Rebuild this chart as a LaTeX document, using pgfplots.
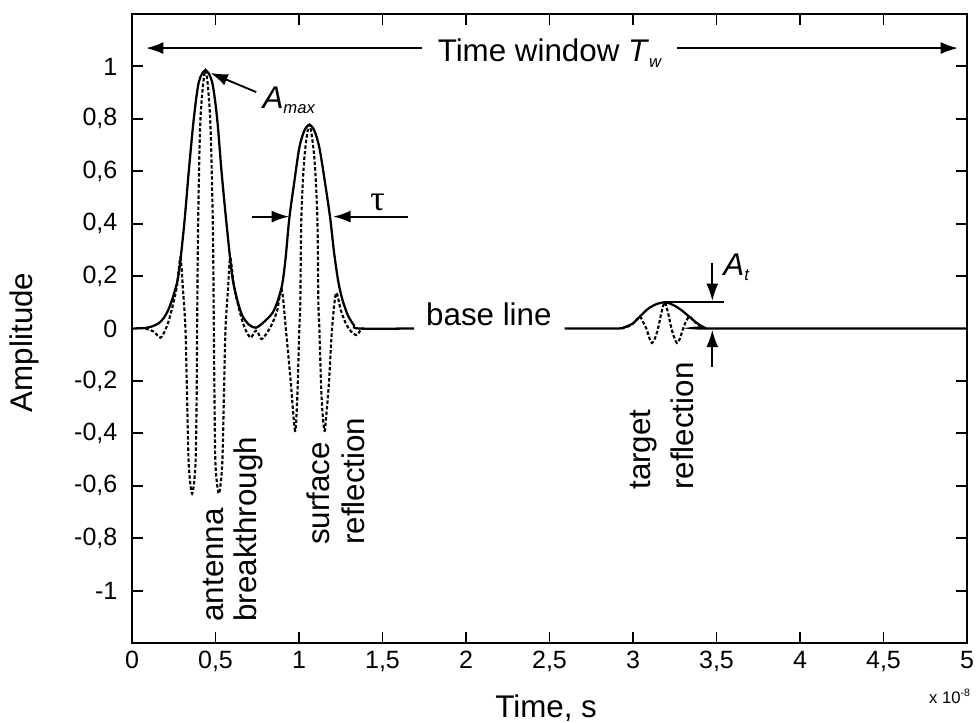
\documentclass[border=0pt]{standalone}
\usepackage{pgfplots}
\pgfplotsset{compat=1.18}
\usepackage{fontspec}
\setmainfont{Liberation Sans}
\newfontfamily\greekserif{Liberation Serif}
\usetikzlibrary{arrows.meta}
\newcommand\af{\fontsize{23.5}{26}\selectfont}
\newcommand\subt[1]{\raisebox{-4pt}{\fontsize{12.5}{13}\selectfont\itshape #1}}
\tikzset{annarrow/.style={-{Latex[length=13pt,width=9pt]}, line width=1.4pt, black}}
\begin{document}
\begin{tikzpicture}
\begin{axis}[
  scale only axis,
  width=626.25pt, height=471.75pt,
  xmin=0, xmax=5, ymin=-1.2, ymax=1.2,
  xtick={0,0.5,1,1.5,2,2.5,3,3.5,4,4.5,5},
  ytick={-1,-0.8,-0.6,-0.4,-0.2,0,0.2,0.4,0.6,0.8,1},
  tick align=inside,
  major tick length=8pt,
  scaled ticks=false,
  /pgf/number format/use comma,
  /pgf/number format/assume math mode=true,
  /pgf/number format/1000 sep={},
  tick label style={font=\fontsize{18.75}{20}\selectfont},
  xticklabel style={yshift=-2.5pt},
  yticklabel style={xshift=-7.5pt},
  axis line style={line width=1.7pt},
  every tick/.style={black, line width=1.4pt},
  clip=false,
]
% solid envelope
\addplot[black, line width=1.7pt, smooth, tension=0.5] coordinates {
(0,0) (0.08,0.002) (0.12,0.008) (0.16,0.02) (0.19,0.04) (0.22,0.075) (0.25,0.13)
(0.28,0.21) (0.313,0.40) (0.34,0.60) (0.37,0.80) (0.40,0.94) (0.44,0.985)
(0.48,0.94) (0.51,0.80) (0.536,0.60) (0.566,0.40) (0.60,0.20) (0.63,0.11)
(0.66,0.05) (0.70,0.015) (0.742,0.003) (0.79,0.025) (0.842,0.06) (0.875,0.11)
(0.90,0.17) (0.92,0.27) (0.942,0.42) (0.972,0.56) (1.002,0.69) (1.032,0.755)
(1.062,0.777) (1.092,0.755) (1.122,0.69) (1.155,0.56) (1.187,0.42) (1.21,0.29)
(1.235,0.18) (1.26,0.11) (1.293,0.05) (1.33,0.012) (1.36,0) (1.69,0)
};
\addplot[black, line width=1.7pt, smooth, tension=0.5] coordinates {
(2.59,0) (2.90,0) (2.95,0.005) (3.0,0.02) (3.043,0.047) (3.09,0.075) (3.14,0.093)
(3.193,0.1) (3.24,0.09) (3.29,0.07) (3.333,0.047) (3.38,0.022) (3.42,0.006)
(3.46,0) (5,0)
};
\addplot[black, line width=1.7pt] coordinates {(3.193,0.1) (3.545,0.1)};
% dashed carrier
\addplot[black, line width=1.6pt, dash pattern=on 2.6pt off 1.6pt, smooth, tension=0.5] coordinates {
(0.08,0) (0.13,-0.012) (0.17,-0.035) (0.20,-0.005) (0.22,0.03) (0.245,0.09)
(0.27,0.165) (0.29,0.27) (0.305,0.15) (0.32,0) (0.33,-0.27) (0.34,-0.52)
(0.36,-0.63) (0.38,-0.52) (0.387,-0.27) (0.39,0) (0.396,0.4) (0.41,0.8)
(0.44,0.985) (0.468,0.8) (0.484,0.4) (0.49,0) (0.494,-0.27) (0.50,-0.52)
(0.52,-0.63) (0.54,-0.52) (0.55,-0.27) (0.56,0) (0.575,0.15) (0.588,0.27)
(0.61,0.165) (0.635,0.09) (0.66,0.03) (0.68,-0.005) (0.71,-0.035) (0.735,-0.012)
(0.75,-0.01) (0.775,-0.04) (0.81,-0.015) (0.84,0.02) (0.87,0.07) (0.896,0.15)
(0.921,0) (0.95,-0.2) (0.965,-0.32) (0.978,-0.39) (0.99,-0.26) (1.002,0)
(1.008,0.1) (1.014,0.42) (1.032,0.65) (1.062,0.777) (1.092,0.65) (1.11,0.42)
(1.116,0.1) (1.122,0) (1.135,-0.26) (1.152,-0.39) (1.165,-0.32) (1.18,-0.2)
(1.198,0) (1.222,0.135) (1.25,0.07) (1.28,0.02) (1.31,-0.01) (1.345,-0.025)
(1.37,-0.005) (1.385,0)
};
\addplot[black, line width=1.6pt, dash pattern=on 2.6pt off 1.6pt, smooth, tension=0.5] coordinates {
(2.93,0) (2.98,0.01) (3.01,0.025) (3.04,0.045) (3.06,0.025) (3.08,0) (3.10,-0.04)
(3.113,-0.055) (3.13,-0.04) (3.15,0) (3.17,0.06) (3.19,0.1) (3.21,0.06) (3.23,0)
(3.25,-0.04) (3.263,-0.055) (3.28,-0.04) (3.30,0) (3.32,0.03) (3.34,0.045)
(3.37,0.025) (3.40,0.01) (3.44,0)
};
% time window
\draw[annarrow] (axis cs:1.735,1.07) -- (axis cs:0.084,1.07);
\draw[annarrow] (axis cs:3.265,1.07) -- (axis cs:4.946,1.07);
\node[anchor=base, inner sep=0, font=\af] at (axis cs:2.5,1.017) {Time window \textit{T}\subt{w}};
% A max
\draw[annarrow] (axis cs:0.744,0.902) -- (axis cs:0.47,0.975);
\node[anchor=base west, inner sep=0, font=\af] at (axis cs:0.78,0.841) {\textit{A}\subt{max}};
% tau
\draw[annarrow] (axis cs:0.72,0.427) -- (axis cs:0.94,0.427);
\draw[annarrow] (axis cs:1.65,0.427) -- (axis cs:1.205,0.427);
\node[anchor=base, inner sep=0, font=\fontsize{27}{29}\selectfont] at (axis cs:1.47,0.452) {\greekserif τ};
% base line
\node[anchor=base, inner sep=0, font=\af] at (axis cs:2.137,0.013) {base line};
% A_t
\draw[annarrow] (axis cs:3.475,0.25) -- (axis cs:3.475,0.105);
\draw[annarrow] (axis cs:3.475,-0.147) -- (axis cs:3.475,-0.005);
\node[anchor=base west, inner sep=0, font=\af] at (axis cs:3.54,0.204) {\textit{A}\subt{t}};
% rotated labels
\node[rotate=90, anchor=base west, inner sep=0, font=\af] at (axis cs:0.547,-1.119) {antenna};
\node[rotate=90, anchor=base west, inner sep=0, font=\af] at (axis cs:0.746,-1.119) {breakthrough};
\node[rotate=90, anchor=base west, inner sep=0, font=\af] at (axis cs:1.18,-0.826) {surface};
\node[rotate=90, anchor=base west, inner sep=0, font=\af] at (axis cs:1.393,-0.826) {reflection};
\node[rotate=90, anchor=base west, inner sep=0, font=\af] at (axis cs:3.103,-0.616) {target};
\node[rotate=90, anchor=base west, inner sep=0, font=\af] at (axis cs:3.361,-0.616) {reflection};
% axis labels
\node[rotate=90, inner sep=0, font=\af] at ([xshift=-81pt]rel axis cs:0,0.478) {Amplitude};
\node[anchor=base, inner sep=0, font=\af] at ([yshift=-55.5pt]rel axis cs:0.496,0) {Time, s};
\node[anchor=base east, inner sep=0, font=\fontsize{12.5}{13}\selectfont] at ([yshift=-45pt,xshift=2.5pt]rel axis cs:1,0) {x 10\raisebox{5pt}{\fontsize{8}{8}\selectfont -8}};
\coordinate (bbSW) at ([shift={(-99pt,-59.25pt)}]rel axis cs:0,0);
\coordinate (bbNE) at ([shift={(6.75pt,10.5pt)}]rel axis cs:1,1);
\end{axis}
\pgfresetboundingbox
\path[use as bounding box] (bbSW) rectangle (bbNE);
\end{tikzpicture}
\end{document}
